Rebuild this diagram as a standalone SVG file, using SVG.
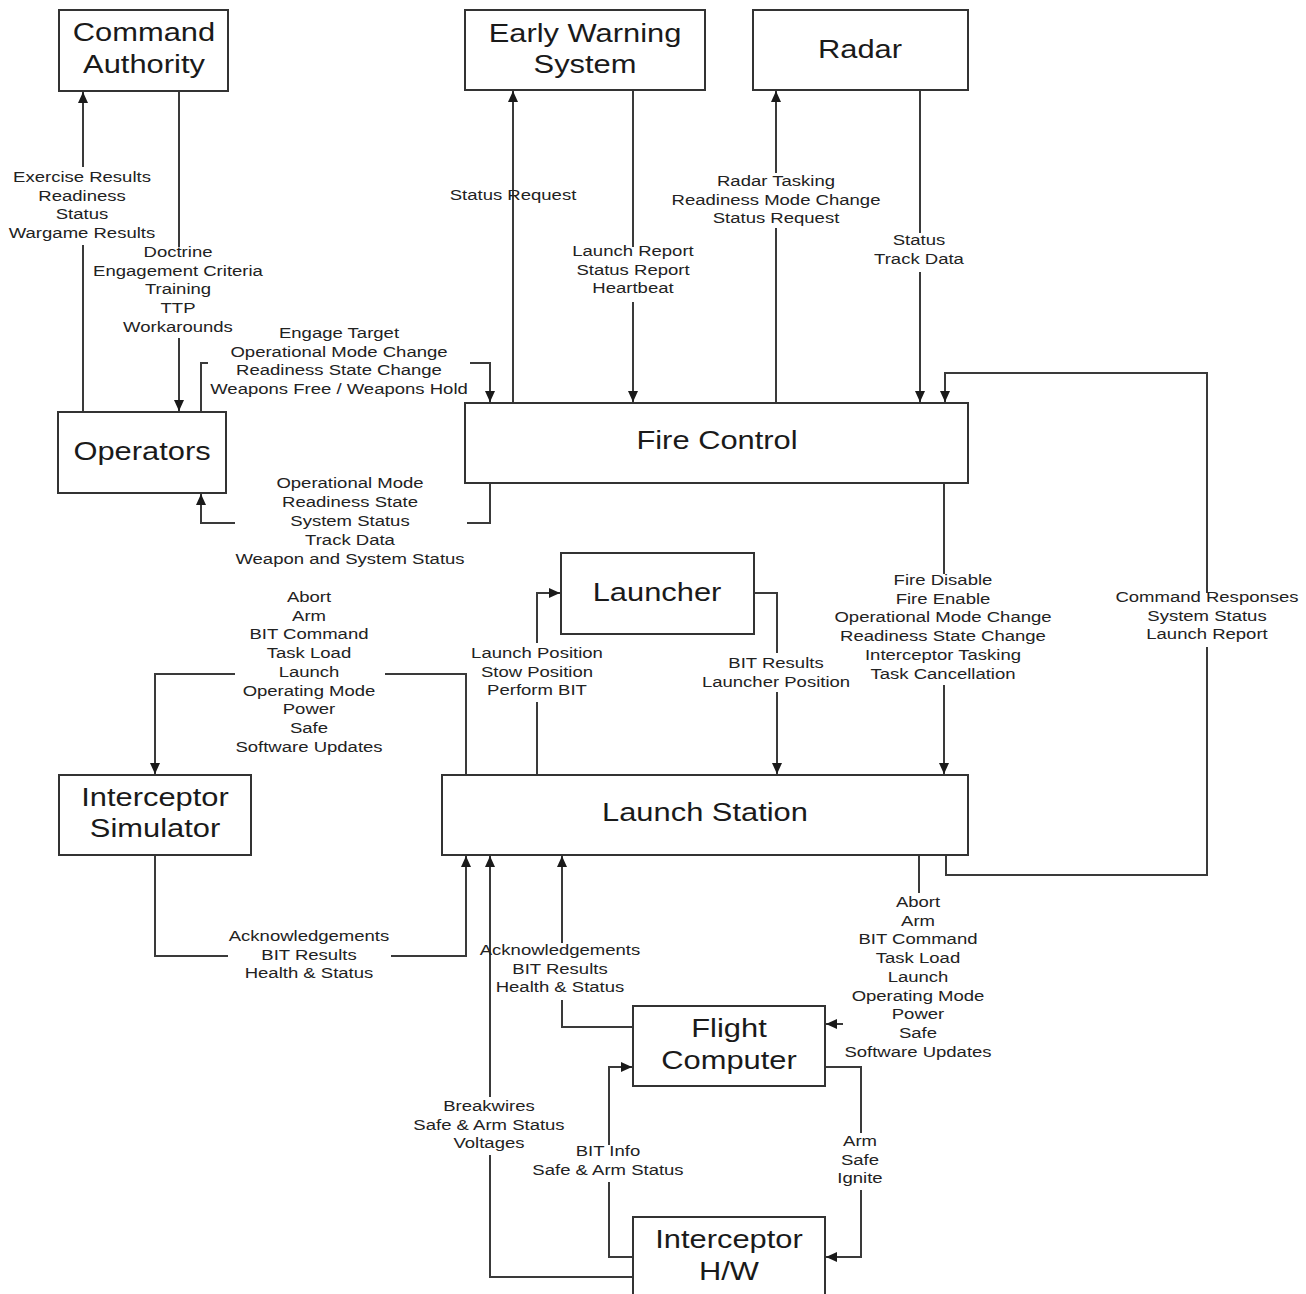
<svg xmlns="http://www.w3.org/2000/svg" width="1306" height="1294" viewBox="0 0 1306 1294">
  <style>
    .box { fill: #ffffff; stroke: #333333; stroke-width: 2; }
    .name { font-family: "Liberation Sans", Arial, sans-serif; font-size: 25px; fill: #1a1a1a; text-anchor: middle; }
    .lbl { font-family: "Liberation Sans", Arial, sans-serif; font-size: 15px; fill: #222222; text-anchor: middle; }
    .wire { fill: none; stroke: #3a3a3a; stroke-width: 2; marker-end: url(#arrow); }
  </style>
  <defs>
    <marker id="arrow" markerUnits="userSpaceOnUse" markerWidth="12" markerHeight="12" refX="11" refY="5" orient="auto">
      <path d="M0,0 L11,5 L0,10 z" fill="#1a1a1a"/>
    </marker>
  </defs>
  <rect width="1306" height="1294" fill="#ffffff"/>

  <!-- connectors: each path leaves a gap where its label sits -->
  <g id="connectors">
    <path id="op-to-ca" class="wire" d="M83,412 V245 M83,167 V92"/>
    <path id="ca-to-op" class="wire" d="M179,91 V247 M179,338 V411"/>
    <path id="op-to-fc" class="wire" d="M201,412 V363 H208 M470,363 H490 V402"/>
    <path id="fc-to-ew" class="wire" d="M513,403 V91"/>
    <path id="ew-to-fc" class="wire" d="M633,90 V247 M633,302 V402"/>
    <path id="fc-to-radar" class="wire" d="M776,403 V228 M776,173 V91"/>
    <path id="radar-to-fc" class="wire" d="M920,90 V233 M920,272 V402"/>
    <path id="ls-to-fc" class="wire" d="M946,855 V875 H1207 V647 M1207,593 V373 H945 V402"/>
    <path id="fc-to-op" class="wire" d="M490,483 V523 H467 M235,523 H201 V494"/>
    <path id="fc-to-ls" class="wire" d="M944,483 V574 M944,685 V774"/>
    <path id="ls-to-launcher" class="wire" d="M537,775 V702 M537,643 V593 H560"/>
    <path id="launcher-to-ls" class="wire" d="M754,593 H777 V653 M777,692 V774"/>
    <path id="ls-to-sim" class="wire" d="M466,775 V674 H385 M235,674 H155 V774"/>
    <path id="sim-to-ls" class="wire" d="M155,855 V956 H228 M391,956 H466 V856"/>
    <path id="flight-to-ls" class="wire" d="M633,1027 H562 V1000 M562,943 V856"/>
    <path id="hw-to-ls" class="wire" d="M633,1277 H490 V1155 M490,1097 V856"/>
    <path id="hw-to-flight" class="wire" d="M633,1257 H609 V1182 M609,1145 V1067 H632"/>
    <path id="flight-to-hw" class="wire" d="M825,1067 H861 V1133 M861,1190 V1257 H826"/>
    <path id="ls-to-flight" class="wire" d="M919,855 V893 M843,1024 H826"/>
  </g>

  <!-- connector labels (type is drawn wide, hence the x scale) -->
  <g id="labels">
    <text class="lbl" transform="translate(82,182) scale(1.235,1)"><tspan x="0">Exercise Results</tspan><tspan x="0" dy="18.6">Readiness</tspan><tspan x="0" dy="18.6">Status</tspan><tspan x="0" dy="18.6">Wargame Results</tspan></text>
    <text class="lbl" transform="translate(178,257) scale(1.235,1)"><tspan x="0">Doctrine</tspan><tspan x="0" dy="18.75">Engagement Criteria</tspan><tspan x="0" dy="18.75">Training</tspan><tspan x="0" dy="18.75">TTP</tspan><tspan x="0" dy="18.75">Workarounds</tspan></text>
    <text class="lbl" transform="translate(339,338) scale(1.235,1)"><tspan x="0">Engage Target</tspan><tspan x="0" dy="18.6">Operational Mode Change</tspan><tspan x="0" dy="18.6">Readiness State Change</tspan><tspan x="0" dy="18.6">Weapons Free / Weapons Hold</tspan></text>
    <text class="lbl" transform="translate(513,200) scale(1.235,1)">Status Request</text>
    <text class="lbl" transform="translate(633,256) scale(1.235,1)"><tspan x="0">Launch Report</tspan><tspan x="0" dy="18.6">Status Report</tspan><tspan x="0" dy="18.6">Heartbeat</tspan></text>
    <text class="lbl" transform="translate(776,186) scale(1.235,1)"><tspan x="0">Radar Tasking</tspan><tspan x="0" dy="18.6">Readiness Mode Change</tspan><tspan x="0" dy="18.6">Status Request</tspan></text>
    <text class="lbl" transform="translate(919,245) scale(1.235,1)"><tspan x="0">Status</tspan><tspan x="0" dy="18.6">Track Data</tspan></text>
    <text class="lbl" transform="translate(1207,602) scale(1.235,1)"><tspan x="0">Command Responses</tspan><tspan x="0" dy="18.75">System Status</tspan><tspan x="0" dy="18.75">Launch Report</tspan></text>
    <text class="lbl" transform="translate(350,488) scale(1.235,1)"><tspan x="0">Operational Mode</tspan><tspan x="0" dy="18.9">Readiness State</tspan><tspan x="0" dy="18.9">System Status</tspan><tspan x="0" dy="18.9">Track Data</tspan><tspan x="0" dy="18.9">Weapon and System Status</tspan></text>
    <text class="lbl" transform="translate(943,585) scale(1.235,1)"><tspan x="0">Fire Disable</tspan><tspan x="0" dy="18.75">Fire Enable</tspan><tspan x="0" dy="18.75">Operational Mode Change</tspan><tspan x="0" dy="18.75">Readiness State Change</tspan><tspan x="0" dy="18.75">Interceptor Tasking</tspan><tspan x="0" dy="18.75">Task Cancellation</tspan></text>
    <text class="lbl" transform="translate(537,658) scale(1.235,1)"><tspan x="0">Launch Position</tspan><tspan x="0" dy="18.75">Stow Position</tspan><tspan x="0" dy="18.75">Perform BIT</tspan></text>
    <text class="lbl" transform="translate(776,668) scale(1.235,1)"><tspan x="0">BIT Results</tspan><tspan x="0" dy="18.6">Launcher Position</tspan></text>
    <text class="lbl" transform="translate(309,602) scale(1.235,1)"><tspan x="0">Abort</tspan><tspan x="0" dy="18.75">Arm</tspan><tspan x="0" dy="18.75">BIT Command</tspan><tspan x="0" dy="18.75">Task Load</tspan><tspan x="0" dy="18.75">Launch</tspan><tspan x="0" dy="18.75">Operating Mode</tspan><tspan x="0" dy="18.75">Power</tspan><tspan x="0" dy="18.75">Safe</tspan><tspan x="0" dy="18.75">Software Updates</tspan></text>
    <text class="lbl" transform="translate(309,941) scale(1.235,1)"><tspan x="0">Acknowledgements</tspan><tspan x="0" dy="18.6">BIT Results</tspan><tspan x="0" dy="18.6">Health &amp; Status</tspan></text>
    <text class="lbl" transform="translate(560,955) scale(1.235,1)"><tspan x="0">Acknowledgements</tspan><tspan x="0" dy="18.6">BIT Results</tspan><tspan x="0" dy="18.6">Health &amp; Status</tspan></text>
    <text class="lbl" transform="translate(489,1111) scale(1.235,1)"><tspan x="0">Breakwires</tspan><tspan x="0" dy="18.75">Safe &amp; Arm Status</tspan><tspan x="0" dy="18.75">Voltages</tspan></text>
    <text class="lbl" transform="translate(608,1156) scale(1.235,1)"><tspan x="0">BIT Info</tspan><tspan x="0" dy="18.6">Safe &amp; Arm Status</tspan></text>
    <text class="lbl" transform="translate(860,1146) scale(1.235,1)"><tspan x="0">Arm</tspan><tspan x="0" dy="18.6">Safe</tspan><tspan x="0" dy="18.6">Ignite</tspan></text>
    <text class="lbl" transform="translate(918,907) scale(1.235,1)"><tspan x="0">Abort</tspan><tspan x="0" dy="18.75">Arm</tspan><tspan x="0" dy="18.75">BIT Command</tspan><tspan x="0" dy="18.75">Task Load</tspan><tspan x="0" dy="18.75">Launch</tspan><tspan x="0" dy="18.75">Operating Mode</tspan><tspan x="0" dy="18.75">Power</tspan><tspan x="0" dy="18.75">Safe</tspan><tspan x="0" dy="18.75">Software Updates</tspan></text>
  </g>

  <!-- nodes -->
  <g id="command-authority">
    <rect class="box" x="59" y="10" width="169" height="81"/>
    <text class="name" transform="translate(144,41) scale(1.235,1)"><tspan x="0">Command</tspan><tspan x="0" dy="32">Authority</tspan></text>
  </g>
  <g id="early-warning-system">
    <rect class="box" x="465" y="10" width="240" height="80"/>
    <text class="name" transform="translate(585,42) scale(1.235,1)"><tspan x="0">Early Warning</tspan><tspan x="0" dy="31">System</tspan></text>
  </g>
  <g id="radar">
    <rect class="box" x="753" y="10" width="215" height="80"/>
    <text class="name" transform="translate(860,58) scale(1.235,1)">Radar</text>
  </g>
  <g id="operators">
    <rect class="box" x="58" y="412" width="168" height="81"/>
    <text class="name" transform="translate(142,460) scale(1.235,1)">Operators</text>
  </g>
  <g id="fire-control">
    <rect class="box" x="465" y="403" width="503" height="80"/>
    <text class="name" transform="translate(717,449) scale(1.235,1)">Fire Control</text>
  </g>
  <g id="launcher">
    <rect class="box" x="561" y="553" width="193" height="81"/>
    <text class="name" transform="translate(657,601) scale(1.235,1)">Launcher</text>
  </g>
  <g id="interceptor-simulator">
    <rect class="box" x="59" y="775" width="192" height="80"/>
    <text class="name" transform="translate(155,806) scale(1.235,1)"><tspan x="0">Interceptor</tspan><tspan x="0" dy="31">Simulator</tspan></text>
  </g>
  <g id="launch-station">
    <rect class="box" x="442" y="775" width="526" height="80"/>
    <text class="name" transform="translate(705,821) scale(1.235,1)">Launch Station</text>
  </g>
  <g id="flight-computer">
    <rect class="box" x="633" y="1006" width="192" height="80"/>
    <text class="name" transform="translate(729,1037) scale(1.235,1)"><tspan x="0">Flight</tspan><tspan x="0" dy="32">Computer</tspan></text>
  </g>
  <g id="interceptor-hw">
    <rect class="box" x="633" y="1217" width="192" height="90"/>
    <text class="name" transform="translate(729,1248) scale(1.235,1)"><tspan x="0">Interceptor</tspan><tspan x="0" dy="32">H/W</tspan></text>
  </g>
</svg>
